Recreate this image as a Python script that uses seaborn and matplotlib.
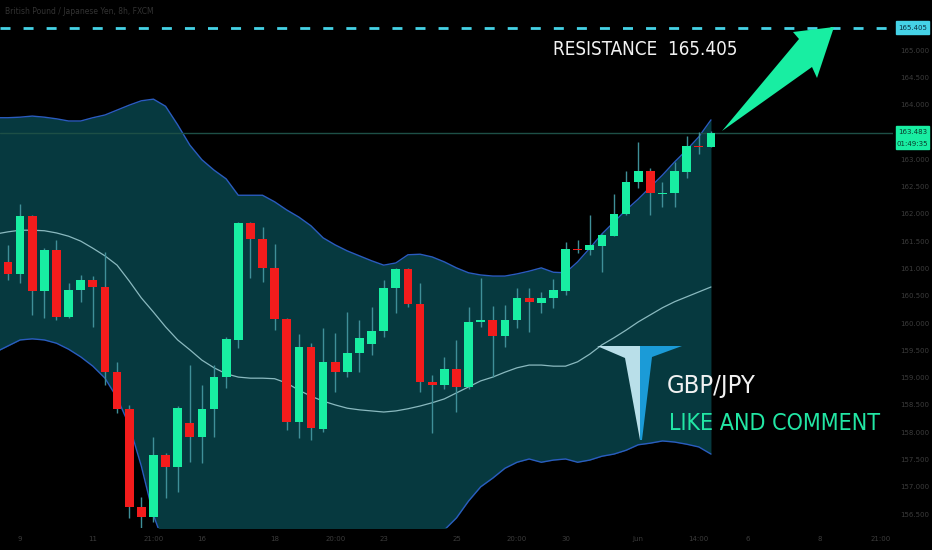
import os
import numpy as np
import pandas as pd
import matplotlib
matplotlib.use("Agg")
import matplotlib.pyplot as plt
import seaborn as sns
from matplotlib import font_manager as fm
from matplotlib.patches import Polygon, Rectangle

# ---------------- data ----------------
title = "British Pound / Japanese Yen, 8h, FXCM"

opens = [161.12, 160.90, 161.96, 160.59, 161.34, 160.11, 160.61, 160.79, 160.66, 159.10,
         158.43, 156.63, 156.45, 157.58, 157.36, 158.17, 157.91, 158.43, 159.01, 159.69,
         161.83, 161.54, 161.01, 160.07, 158.19, 159.56, 158.06, 159.29, 159.10, 159.45,
         159.62, 159.85, 160.64, 160.99, 160.35, 158.92, 158.87, 159.16, 158.83, 160.02,
         160.06, 159.76, 160.06, 160.46, 160.37, 160.46, 160.59, 161.36, 161.34, 161.41,
         161.59, 162.00, 162.58, 162.78, 162.36, 162.38, 162.77, 163.24, 163.22]
highs = [161.43, 162.18, 161.98, 161.37, 161.52, 160.73, 160.88, 160.86, 161.30, 159.29,
         158.50, 156.81, 157.91, 157.62, 158.48, 159.23, 158.87, 159.23, 159.74, 161.85,
         161.85, 161.76, 161.45, 160.09, 159.80, 159.63, 159.91, 159.82, 160.20, 160.06,
         160.29, 160.79, 161.01, 161.01, 160.73, 159.05, 159.38, 159.69, 160.29, 160.82,
         160.31, 160.33, 160.64, 160.64, 160.57, 160.81, 161.48, 161.52, 161.98, 161.63,
         162.36, 162.78, 163.32, 162.84, 162.58, 162.95, 163.43, 163.50, 163.52]
lows = [160.79, 160.73, 160.15, 160.09, 160.06, 160.10, 160.39, 159.93, 158.87, 158.35,
        156.43, 156.25, 156.36, 156.80, 156.91, 157.45, 157.44, 157.91, 158.81, 159.54,
        160.82, 160.75, 159.87, 158.04, 157.89, 157.86, 158.00, 158.74, 159.01, 159.10,
        159.41, 159.74, 160.18, 160.29, 158.74, 157.99, 158.79, 158.37, 158.79, 159.93,
        159.01, 159.56, 159.91, 159.84, 160.18, 160.28, 160.51, 161.28, 161.25, 160.93,
        161.59, 161.98, 162.47, 161.98, 162.13, 162.13, 162.66, 163.10, 163.22]
closes = [160.90, 161.96, 160.59, 161.34, 160.11, 160.61, 160.79, 160.66, 159.10, 158.43,
          156.63, 156.45, 157.58, 157.36, 158.44, 157.91, 158.43, 159.01, 159.71, 161.83,
          161.54, 161.01, 160.07, 158.19, 159.56, 158.08, 159.29, 159.10, 159.45, 159.73,
          159.85, 160.64, 160.99, 160.35, 158.92, 158.87, 159.16, 158.83, 160.02, 160.06,
          159.76, 160.06, 160.46, 160.39, 160.46, 160.61, 161.36, 161.34, 161.43, 161.61,
          162.00, 162.58, 162.78, 162.38, 162.38, 162.78, 163.24, 163.22, 163.483]

band_index = list(range(-1, 59))
band_upper = [163.76, 163.76, 163.77, 163.79, 163.77, 163.74, 163.70, 163.70, 163.76, 163.81,
              163.90, 163.99, 164.07, 164.10, 163.97, 163.63, 163.26, 162.99, 162.80, 162.64,
              162.34, 162.34, 162.34, 162.22, 162.07, 161.94, 161.78, 161.56, 161.43, 161.32,
              161.23, 161.14, 161.06, 161.10, 161.25, 161.26, 161.21, 161.12, 161.01, 160.92,
              160.88, 160.86, 160.86, 160.90, 160.95, 161.01, 160.93, 160.92, 161.12, 161.37,
              161.63, 161.85, 162.07, 162.27, 162.49, 162.71, 162.95, 163.17, 163.41, 163.72]
band_mid = [161.63, 161.67, 161.70, 161.70, 161.69, 161.65, 161.59, 161.50, 161.37, 161.23,
            161.06, 160.77, 160.46, 160.20, 159.93, 159.69, 159.51, 159.32, 159.18, 159.07,
            159.01, 158.99, 158.99, 158.98, 158.90, 158.77, 158.66, 158.57, 158.50, 158.44,
            158.41, 158.39, 158.37, 158.39, 158.43, 158.48, 158.54, 158.61, 158.72, 158.83,
            158.94, 159.01, 159.10, 159.18, 159.23, 159.23, 159.21, 159.21, 159.29, 159.43,
            159.60, 159.73, 159.87, 160.02, 160.15, 160.28, 160.39, 160.48, 160.57, 160.66]
band_lower = [159.47, 159.58, 159.69, 159.71, 159.69, 159.63, 159.52, 159.38, 159.21, 158.99,
              158.63, 158.13, 157.38, 156.48, 155.88, 155.75, 155.75, 155.66, 155.55, 155.50,
              155.68, 155.64, 155.64, 155.73, 155.73, 155.60, 155.55, 155.59, 155.57, 155.57,
              155.59, 155.64, 155.68, 155.68, 155.60, 155.70, 155.86, 156.21, 156.43, 156.74,
              157.00, 157.16, 157.34, 157.45, 157.51, 157.45, 157.49, 157.51, 157.45, 157.49,
              157.56, 157.60, 157.67, 157.77, 157.80, 157.84, 157.82, 157.78, 157.73, 157.60]

resistance = 165.405
last_price = 163.483
countdown = "01:49:35"
# scale labels that stay visible (163.500 and 165.500 sit under the price boxes)
price_ticks = [156.5, 157.0, 157.5, 158.0, 158.5, 159.0, 159.5, 160.0, 160.5, 161.0,
               161.5, 162.0, 162.5, 163.0, 164.0, 164.5, 165.0]
time_tick_pos = [1, 7, 12, 16, 22, 27, 31, 37, 42, 46, 52, 57, 61, 67, 72]
time_tick_labels = ["9", "11", "21:00", "16", "18", "20:00", "23", "25", "20:00", "30",
                    "Jun", "14:00", "6", "8", "21:00"]
resistance_text = "RESISTANCE  165.405"
pair_text = "GBP/JPY"
cta_text = "LIKE AND COMMENT"

# ---------------- styling ----------------
BG = "#000000"
FILL = "#06393f"
BAND_EDGE = "#2a5cbf"
MID = "#8ab9bf"
UP = "#18eea2"
DOWN = "#f31c1c"
WICK = "#3f8f98"
CYAN = "#45d2e6"
LAST_LINE = "#1d4f46"
AXIS_TXT = "#3c3c3c"
CTA = "#22e6a4"

W, H = 932, 550
sns.set_style("dark", {"axes.facecolor": BG, "figure.facecolor": BG})
plt.rcParams["font.family"] = ["DejaVu Sans"]
plt.rcParams["lines.scale_dashes"] = False


def pick_font():
    bad = ("bold", "italic", "oblique", "light", "thin", "black", "heavy", "medium")
    cands = []
    for f in fm.fontManager.ttflist:
        b = os.path.basename(f.fname).lower()
        narrow = any(k in b for k in ("condensed", "narrow")) or \
            str(getattr(f, "stretch", "normal")) in ("condensed", "semi-condensed", "extra-condensed")
        if narrow and not any(k in b for k in bad):
            cands.append(f.fname)
    for p in ("dejavusanscondensed", "liberationsansnarrow", "robotocondensed",
              "opensans_condensed", "notosans-condensed", "notosanscondensed"):
        for c in cands:
            if os.path.basename(c).lower().replace(" ", "").startswith(p):
                return fm.FontProperties(fname=c)
    if cands:
        return fm.FontProperties(fname=cands[0])
    return fm.FontProperties(family=["Roboto", "DejaVu Sans"], weight="medium")


fp_big = pick_font()


def px(x, y):
    return (x / W, 1 - y / H)


fig = plt.figure(figsize=(W / 100, H / 100), dpi=100, facecolor=BG)
ax = fig.add_axes([0, 22 / H, 893 / W, 528 / H])
ax.set_facecolor(BG)

bands = pd.DataFrame({"idx": band_index, "upper": band_upper,
                      "mid": band_mid, "lower": band_lower})
ax.fill_between(bands["idx"], bands["lower"], bands["upper"], color=FILL, lw=0, zorder=1)
sns.lineplot(data=bands, x="idx", y="upper", ax=ax, color=BAND_EDGE, linewidth=1.0, zorder=2, legend=False)
sns.lineplot(data=bands, x="idx", y="lower", ax=ax, color=BAND_EDGE, linewidth=1.0, zorder=2, legend=False)
sns.lineplot(data=bands, x="idx", y="mid", ax=ax, color=MID, linewidth=0.9, zorder=2, legend=False)

candles = pd.DataFrame({"o": opens, "h": highs, "l": lows, "c": closes})
candles["x"] = np.arange(len(candles))
up = candles["c"] >= candles["o"]
cols = np.where(up, UP, DOWN)
ax.vlines(candles["x"], candles["l"], candles["h"], color=WICK, lw=1.0, zorder=3)
bottom = np.minimum(candles["o"], candles["c"])
height = np.maximum((candles["c"] - candles["o"]).abs(), 0.02)
ax.bar(candles["x"], height, bottom=bottom, width=0.72, color=cols, linewidth=0, zorder=4)

ax.axhline(last_price, color=LAST_LINE, lw=1.0, zorder=2.5)
ax.axhline(resistance, color=CYAN, lw=2.0, ls=(0, (7.2, 9.4)), zorder=5)

ax.set_xlim(-0.66, 73.02)
ax.set_ylim(156.246, 165.916)
ax.set_xlabel("")
ax.set_ylabel("")
ax.yaxis.tick_right()
ax.set_yticks(price_ticks)
ax.set_yticklabels([f"{v:.3f}" for v in price_ticks])
ax.tick_params(axis="y", length=0, pad=5, labelsize=5, labelcolor=AXIS_TXT)
ax.set_xticks(time_tick_pos)
ax.set_xticklabels(time_tick_labels)
ax.tick_params(axis="x", length=0, pad=5.5, labelsize=5, labelcolor=AXIS_TXT)
for s in ax.spines.values():
    s.set_visible(False)
ax.grid(False)

# price boxes on the right scale
fig.add_artist(Rectangle(px(896, 34), 33 / W, 13 / H, transform=fig.transFigure,
                         color=CYAN, zorder=5))
fig.text(*px(912.5, 27.8), f"{resistance:.3f}", fontsize=5, color="#0b3142",
         ha="center", va="center", zorder=6)
fig.add_artist(Rectangle(px(896, 149), 33 / W, 23 / H, transform=fig.transFigure,
                         color=UP, zorder=5))
fig.text(*px(912.5, 132), f"{last_price:.3f}", fontsize=5, color="#0b3a2c",
         ha="center", va="center", zorder=6)
fig.text(*px(912.5, 143.5), countdown, fontsize=5, color="#0b3a2c",
         ha="center", va="center", zorder=6)

# title
fig.text(*px(5, 12), title, fontsize=5.5, color="#333333", ha="left", va="center")

# annotation texts, fitted to the widths in the picture
renderer = fig.canvas.get_renderer()


def fit_text(s, x_left, y_base, width_px, color):
    t = fig.text(*px(x_left, y_base), s, fontproperties=fp_big, fontsize=20, color=color,
                 ha="left", va="baseline", zorder=6)
    w = t.get_window_extent(renderer=renderer).width
    t.set_fontsize(20 * width_px / w)
    return t


fit_text(resistance_text, 553, 55, 185, "#f2f2f2")
fit_text(pair_text, 667, 393, 89, "#f2f2f2")
fit_text(cta_text, 669, 430, 212, CTA)

# arrow
arrow_pts = [(722, 131), (799, 39), (793, 32), (834, 27), (817, 78), (812, 67)]
fig.add_artist(Polygon([px(*p) for p in arrow_pts], closed=True, transform=fig.transFigure,
                       color=UP, lw=0, zorder=6))

# logo
logo_light = [(597, 346), (640, 346), (640, 440), (625, 358)]
logo_blue = [(640, 346), (682, 346), (652, 357), (642, 440), (640, 440)]
fig.add_artist(Polygon([px(*p) for p in logo_light], closed=True, transform=fig.transFigure,
                       color="#b9dfe9", lw=0, zorder=6))
fig.add_artist(Polygon([px(*p) for p in logo_blue], closed=True, transform=fig.transFigure,
                       color="#1b9bd7", lw=0, zorder=6))

fig.savefig("out.png", dpi=100, facecolor=BG)
